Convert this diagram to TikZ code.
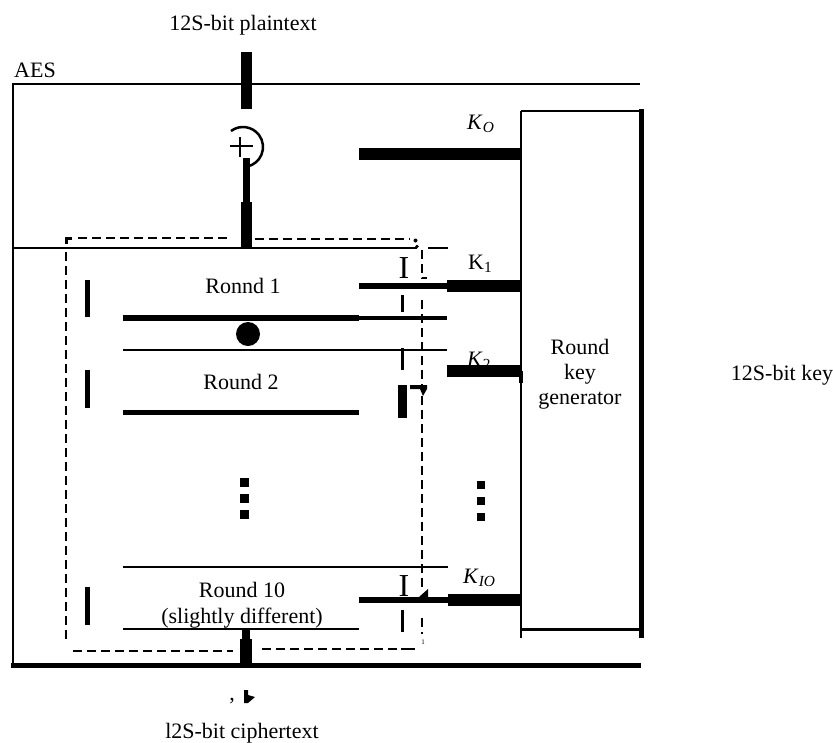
\documentclass[tikz,border=0pt]{standalone}
\usepackage{fontspec}
\setmainfont{Liberation Serif}
\begin{document}
\begin{tikzpicture}[x=1pt,y=-1pt,
  lbl/.style={inner sep=0pt, font=\fontsize{22}{26}\selectfont},
  bigI/.style={inner sep=0pt, font=\fontsize{32}{32}\selectfont},
  tiny/.style={inner sep=0pt, font=\fontsize{7}{7}\selectfont},
  dsh/.style={dash pattern=on 9pt off 5pt, line width=1.6pt},
  thin/.style={line width=1.5pt}]
\useasboundingbox (0,0) rectangle (833,742);

% texts
\node[lbl, anchor=base] (pt) at (243,30) {12S-bit plaintext};
\node[lbl, anchor=base west] (aes) at (14,77) {AES};
\node[lbl, anchor=base] (r1) at (243,293) {Ronnd 1};
\node[lbl, anchor=base] (r2) at (241,389) {Round 2};
\node[lbl, anchor=base] (r10) at (242,597) {Round 10};
\node[lbl, anchor=base] (r10b) at (242,623) {(slightly different)};
\node[lbl, anchor=base] (g1) at (580,354) {Round};
\node[lbl, anchor=base] (g2) at (580,379) {key};
\node[lbl, anchor=base] (g3) at (580,404) {generator};
\node[lbl, anchor=base] (key) at (782,380) {12S-bit key};
\node[lbl, anchor=base] (ct) at (242,738) {l2S-bit ciphertext};
\node[lbl, anchor=base west] (k0) at (467,129) {\textit{K}\textsubscript{\textit{O}}};
\node[lbl, anchor=base west] (k1) at (468,269) {K\textsubscript{1}};
\node[lbl, anchor=base west] (k2) at (467,366) {\textit{K}\textsubscript{2}};
\node[lbl, anchor=base west] (k10) at (463,583) {\textit{K}\textsubscript{\textit{IO}}};
\node[bigI, anchor=base] (i1) at (404,278) {I};
\node[bigI, anchor=base] (i2) at (404,596) {I};
\node[lbl, anchor=base] (cm) at (232,700) {,};
\node[tiny, anchor=base] (one) at (423,644) {1};

% AES frame
\draw[line width=2pt] (13,84) -- (640,84);
\draw[line width=2pt] (13,83) -- (13,666);
\draw[line width=5pt] (11,665) -- (641,665);
\draw[thin] (13,248) -- (417,248);
\fill (417,246.5) circle (1.8);
\draw[thin] (428,248) -- (448,248);

% plaintext input and xor
\fill (241,52) rectangle (252,109);
\draw[line width=2.5pt] (243,147) ++(-127:20) arc[start angle=-127, end angle=76, radius=20];
\draw[line width=2.5pt] (230,146) -- (253,146) (240,137) -- (240,157);
\fill (243,158) rectangle (250,202);
\fill (241,202) rectangle (252,248);

% dashed frame
\fill (65,237) rectangle (68,244);
\fill (65,237) rectangle (72,239.5);
\draw[dsh] (78,238) -- (228,238);
\draw[dsh] (255,239) -- (410,239);
\fill (415.5,240.5) circle (2);
\draw[dsh] (66,252) -- (66,642);
\draw[dsh] (73,651) -- (233,651);
\draw[dsh] (262,649) -- (397,649);
\draw[line width=2pt] (401,649) -- (415,649);
\draw[dsh] (422,250) -- (422,278) -- (427,278);
\draw[dsh] (422,300) -- (422,385);
\fill (410,385) -- (427,385) -- (427,389) -- (423,396) -- (420,389) -- (410,389) -- cycle;
\draw[dsh] (422,396) -- (422,590);
\fill (419,597) -- (428,597) -- (428,589) -- cycle;
\draw[dsh] (422,618) -- (422,634);

% round lines
\fill (85,280) rectangle (90,317);
\fill (85,370) rectangle (90,408);
\fill (85,587) rectangle (90,625);
\draw[line width=6pt] (123,318) -- (359,318);
\draw[line width=4pt] (359,318) -- (447,318);
\fill (248,334) circle (12);
\draw[thin] (123,350) -- (447,350);
\draw[line width=5pt] (123,412) -- (359,412);
\draw[thin] (123,567) -- (448,567);
\draw[line width=2.5pt] (123,629) -- (359,629);

% key lines
\fill (359,148) rectangle (522,160);
\draw[line width=6pt] (359,286) -- (448,286);
\fill (447,280) rectangle (522,292);
\fill (447,365) rectangle (522,377);
\fill (519,371) rectangle (523,383);
\draw[line width=6pt] (359,600) -- (448,600);
\fill (448,594) rectangle (522,606);

% short verticals
\draw[line width=3pt] (402,295) -- (402,312);
\draw[line width=3pt] (402,348) -- (402,370);
\fill (398,385) rectangle (407,418);
\draw[line width=3pt] (402,610) -- (402,632);

% dots
\fill (240,478) rectangle (249,487);
\fill (240,494) rectangle (249,503);
\fill (240,510) rectangle (249,519);
\fill (477,481) rectangle (485,489);
\fill (477,497) rectangle (485,505);
\fill (477,513) rectangle (485,521);

% round key generator box
\draw[thin] (521,111) -- (521,638);
\draw[thin] (521,111) -- (641,111);
\draw[line width=5pt] (641,109) -- (641,638);
\draw[line width=3pt] (520,629) -- (643,629);

% ciphertext output
\fill (242,630) rectangle (250,639);
\fill (240,639) rectangle (252,667);
\fill (244,690) -- (248,690) -- (248,695) -- (255,697) -- (248,703) -- (244,703) -- cycle;
\end{tikzpicture}
\end{document}
